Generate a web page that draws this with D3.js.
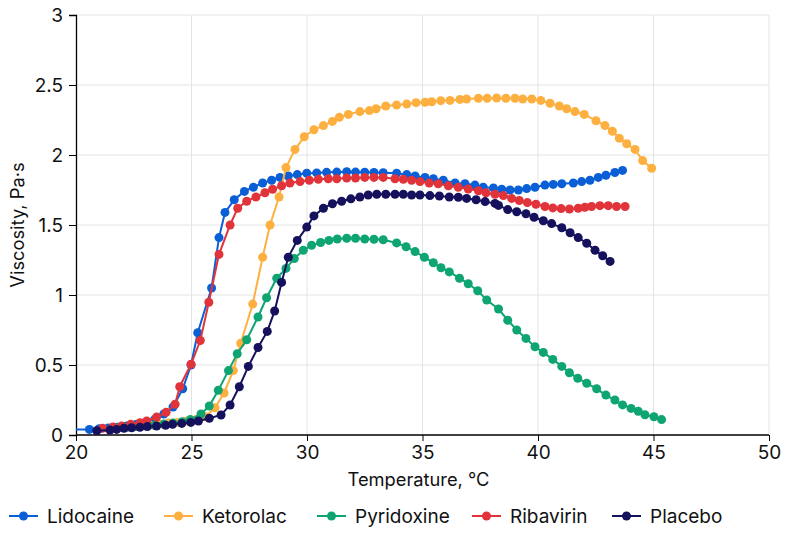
<!DOCTYPE html>
<html><head><meta charset="utf-8">
<script src="https://cdn.jsdelivr.net/npm/d3@7"></script>
<style>body{margin:0;background:#fff;} text{font-family:Inter,"Noto Sans",sans-serif;}</style>
</head><body><svg id="c" width="787" height="533"></svg>
<script>
const seriesNames = ["Lidocaine","Ketorolac","Pyridoxine","Ribavirin","Placebo"];
const seriesColors = ["#0a5fd6","#fdb040","#0ea572","#e1343a","#15115c"];
const xTicks = [20,25,30,35,40,45,50];
const yTicks = [0,0.5,1,1.5,2,2.5,3];

const lidocaine = [[19.7,0.04],[20.58,0.04],[21.0,0.045],[21.4,0.05],[21.8,0.055],[22.2,0.065],[22.6,0.075],[23.0,0.09],[23.4,0.11],[23.8,0.15],[24.2,0.2],[24.62,0.33],[24.98,0.5],[25.27,0.73],[25.87,1.05],[26.19,1.41],[26.45,1.59],[26.85,1.68],[27.29,1.74],[27.68,1.77],[28.08,1.8],[28.47,1.82],[28.83,1.84],[29.19,1.85],[29.58,1.86],[29.99,1.87],[30.42,1.872],[30.85,1.876],[31.29,1.878],[31.72,1.88],[32.1,1.878],[32.5,1.877],[32.9,1.875],[33.3,1.873],[33.88,1.87],[34.32,1.86],[34.68,1.85],[35.11,1.84],[35.47,1.83],[35.9,1.82],[36.41,1.8],[36.84,1.795],[37.27,1.785],[37.63,1.77],[38.07,1.765],[38.43,1.755],[38.79,1.75],[39.15,1.75],[39.51,1.76],[39.87,1.77],[40.3,1.785],[40.66,1.79],[41.03,1.795],[41.53,1.8],[41.89,1.81],[42.25,1.82],[42.61,1.84],[42.94,1.855],[43.33,1.875],[43.66,1.89]];
const ketorolac = [[21.6,0.05],[22.0,0.055],[22.4,0.06],[22.8,0.065],[23.2,0.07],[23.6,0.078],[24.0,0.085],[24.4,0.09],[24.8,0.1],[25.2,0.11],[25.6,0.13],[26.02,0.195],[26.41,0.3],[26.81,0.46],[27.13,0.655],[27.65,0.935],[28.08,1.27],[28.4,1.5],[28.79,1.7],[29.09,1.91],[29.48,2.04],[29.88,2.13],[30.3,2.18],[30.71,2.21],[31.1,2.24],[31.4,2.27],[31.79,2.29],[32.29,2.31],[32.7,2.317],[32.99,2.33],[33.41,2.35],[33.88,2.357],[34.32,2.364],[34.72,2.374],[35.11,2.376],[35.4,2.38],[35.79,2.388],[36.19,2.39],[36.62,2.397],[36.91,2.4],[37.42,2.405],[37.8,2.405],[38.21,2.407],[38.61,2.405],[39.0,2.405],[39.34,2.4],[39.73,2.4],[40.12,2.39],[40.52,2.37],[40.92,2.35],[41.24,2.33],[41.6,2.31],[42.0,2.29],[42.51,2.245],[42.9,2.21],[43.22,2.17],[43.52,2.12],[43.84,2.08],[44.2,2.04],[44.53,1.96],[44.92,1.905]];
const pyridoxine = [[21.8,0.05],[22.2,0.055],[22.6,0.06],[23.0,0.065],[23.4,0.07],[23.8,0.078],[24.2,0.085],[24.6,0.095],[24.95,0.11],[25.41,0.15],[25.77,0.207],[26.16,0.32],[26.6,0.46],[26.98,0.58],[27.39,0.68],[27.88,0.843],[28.25,0.98],[28.69,1.12],[29.09,1.19],[29.45,1.26],[29.84,1.32],[30.2,1.355],[30.59,1.375],[30.95,1.39],[31.31,1.4],[31.72,1.405],[32.1,1.405],[32.5,1.4],[32.9,1.398],[33.3,1.395],[33.88,1.372],[34.29,1.345],[34.68,1.31],[35.08,1.27],[35.47,1.23],[35.8,1.195],[36.16,1.165],[36.6,1.12],[36.98,1.08],[37.39,1.03],[37.78,0.964],[38.29,0.9],[38.69,0.82],[39.08,0.75],[39.48,0.69],[39.87,0.63],[40.23,0.59],[40.64,0.54],[41.03,0.49],[41.36,0.445],[41.72,0.405],[42.11,0.37],[42.54,0.33],[42.94,0.285],[43.33,0.25],[43.66,0.215],[44.03,0.19],[44.34,0.17],[44.63,0.145],[45.02,0.13],[45.35,0.11]];
const ribavirin = [[21.15,0.048],[21.6,0.058],[21.98,0.064],[22.37,0.076],[22.77,0.088],[23.06,0.1],[23.49,0.128],[23.9,0.162],[24.29,0.22],[24.49,0.345],[24.98,0.505],[25.38,0.675],[25.75,0.948],[26.19,1.29],[26.67,1.5],[27.0,1.62],[27.39,1.67],[27.79,1.7],[28.18,1.73],[28.51,1.755],[28.9,1.78],[29.26,1.8],[29.7,1.81],[30.1,1.82],[30.49,1.826],[30.92,1.83],[31.29,1.83],[31.72,1.836],[32.1,1.836],[32.5,1.84],[32.9,1.84],[33.3,1.84],[33.81,1.83],[34.17,1.826],[34.53,1.82],[34.89,1.81],[35.29,1.8],[35.68,1.795],[36.12,1.78],[36.55,1.77],[36.98,1.757],[37.42,1.745],[37.75,1.73],[38.14,1.72],[38.5,1.71],[38.86,1.69],[39.19,1.675],[39.54,1.66],[39.91,1.648],[40.3,1.632],[40.64,1.622],[41.0,1.617],[41.36,1.614],[41.74,1.62],[42.03,1.627],[42.32,1.632],[42.68,1.638],[43.04,1.638],[43.4,1.632],[43.77,1.632]];
const placebo = [[20.9,0.03],[21.47,0.035],[21.76,0.04],[22.08,0.048],[22.41,0.052],[22.77,0.055],[23.09,0.06],[23.49,0.064],[23.88,0.07],[24.18,0.076],[24.58,0.083],[24.97,0.09],[25.3,0.1],[25.77,0.12],[26.28,0.143],[26.67,0.214],[27.07,0.345],[27.46,0.49],[27.88,0.625],[28.28,0.74],[28.6,0.886],[28.9,1.09],[29.19,1.27],[29.58,1.39],[29.99,1.485],[30.3,1.565],[30.71,1.62],[31.1,1.652],[31.5,1.67],[31.9,1.687],[32.29,1.7],[32.65,1.714],[33.02,1.72],[33.41,1.72],[33.81,1.72],[34.17,1.72],[34.53,1.714],[34.89,1.714],[35.32,1.71],[35.73,1.707],[36.16,1.7],[36.55,1.698],[36.91,1.69],[37.32,1.68],[37.71,1.667],[38.14,1.654],[38.29,1.64],[38.69,1.61],[39.08,1.595],[39.48,1.58],[39.83,1.555],[40.23,1.53],[40.59,1.51],[41.03,1.48],[41.39,1.445],[41.74,1.41],[42.11,1.37],[42.47,1.32],[42.8,1.28],[43.12,1.24]];

const seriesData = [lidocaine, ketorolac, pyridoxine, ribavirin, placebo];

const m = {l:76, r:18, t:15, b:98};
const W = 787, H = 533;
const svg = d3.select("#c");
const x = d3.scaleLinear().domain([20,50]).range([m.l, W-m.r]);
const y = d3.scaleLinear().domain([0,3]).range([H-m.b, m.t]);

svg.append("defs").append("clipPath").attr("id","clip")
  .append("rect").attr("x",m.l).attr("y",m.t-8).attr("width",W-m.r-m.l+8).attr("height",H-m.b-m.t+8);

// grid
svg.append("g").selectAll("line").data(yTicks.slice(1)).join("line")
  .attr("x1",m.l).attr("x2",W-m.r).attr("y1",d=>y(d)).attr("y2",d=>y(d))
  .attr("stroke","#e4e4e4").attr("stroke-width",1);
svg.append("g").selectAll("line").data(xTicks.slice(1)).join("line")
  .attr("y1",m.t).attr("y2",H-m.b).attr("x1",d=>x(d)).attr("x2",d=>x(d))
  .attr("stroke","#e4e4e4").attr("stroke-width",1);

// axes
const gx = svg.append("g").attr("transform",`translate(0,${H-m.b})`)
  .call(d3.axisBottom(x).tickValues(xTicks).tickSize(6).tickPadding(5).tickFormat(d3.format("d")));
const gy = svg.append("g").attr("transform",`translate(${m.l},0)`)
  .call(d3.axisLeft(y).tickValues(yTicks).tickSize(7).tickPadding(6).tickFormat(d=>String(d)));
[gx,gy].forEach(g=>{
  g.select(".domain").attr("stroke","#000").attr("stroke-width",1.3);
  g.selectAll(".tick line").attr("stroke","#000");
  g.selectAll("text").attr("font-size",19).attr("fill","#111").style("font-family","Inter,'Noto Sans',sans-serif");
});
gx.select(".domain").attr("d",`M${m.l},0H${W-m.r}`);

svg.append("text").attr("x",(m.l+W-m.r)/2-4).attr("y",486).attr("text-anchor","middle")
  .attr("font-size",18.3).attr("fill","#111").text("Temperature, °C");
svg.append("text").attr("transform",`translate(24,${(m.t+H-m.b)/2}) rotate(-90)`)
  .attr("text-anchor","middle").attr("font-size",18.3).attr("fill","#111").text("Viscosity, Pa·s");

const line = d3.line().x(d=>x(d[0])).y(d=>y(d[1]));
const plot = svg.append("g").attr("clip-path","url(#clip)");
seriesData.forEach((data,i)=>{
  const g = plot.append("g");
  g.append("path").datum(data).attr("d",line).attr("fill","none")
    .attr("stroke",seriesColors[i]).attr("stroke-width",2);
  g.selectAll("circle").data(data).join("circle")
    .attr("cx",d=>x(d[0])).attr("cy",d=>y(d[1])).attr("r",4.5).attr("fill",seriesColors[i]);
});

// legend
const legendX = [9,164,317,472,612];
const lg = svg.append("g").attr("transform","translate(0,516)");
seriesNames.forEach((n,i)=>{
  const g = lg.append("g").attr("transform",`translate(${legendX[i]},0)`);
  g.append("line").attr("x1",0).attr("x2",29).attr("stroke",seriesColors[i]).attr("stroke-width",2);
  g.append("circle").attr("cx",14.5).attr("r",4.5).attr("fill",seriesColors[i]);
  g.append("text").attr("x",38).attr("dy","0.35em").attr("font-size",19).attr("fill","#111").text(n);
});
</script></body></html>
